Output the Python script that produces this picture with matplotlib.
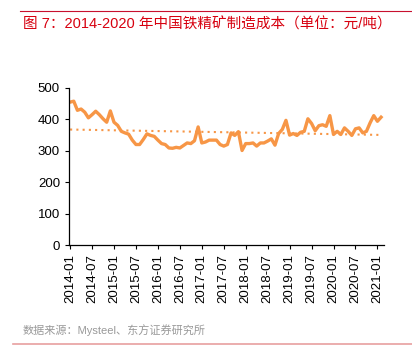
import matplotlib.pyplot as plt
import numpy as np
import pandas as pd

plt.rcParams['font.family'] = ['Liberation Sans', 'Noto Sans CJK SC', 'DejaVu Sans']

# 月度数据 2014-01 ~ 2021-02
months = pd.date_range('2014-01-01', periods=86, freq='MS')
cost = [455, 458, 429, 433, 423, 405, 415, 426, 415, 402,
        391, 427, 391, 381, 362, 357, 353, 334, 320, 320,
        336, 354, 349, 346, 334, 323, 320, 309, 308, 311,
        309, 317, 325, 323, 332, 376, 325, 328, 334, 334,
        334, 320, 315, 320, 357, 349, 361, 301, 323, 323,
        325, 315, 325, 325, 331, 338, 318, 355, 368, 397,
        350, 355, 349, 359, 362, 402, 387, 364, 380, 383,
        378, 412, 352, 362, 352, 373, 362, 349, 370, 373,
        357, 362, 389, 412, 394, 407]
tick_labels = ['2014-01', '2014-07', '2015-01', '2015-07', '2016-01', '2016-07',
               '2017-01', '2017-07', '2018-01', '2018-07', '2019-01', '2019-07',
               '2020-01', '2020-07', '2021-01']

title = '图 7：2014-2020 年中国铁精矿制造成本（单位：元/吨）'
source = '数据来源：Mysteel、东方证券研究所'

x = np.arange(len(cost))
cost = np.array(cost)
k, b = np.polyfit(x, cost, 1)  # 线性趋势线

fig = plt.figure(figsize=(4.12, 3.59), dpi=100)
ax = fig.add_axes([69/412, 1 - 245/359, (384-69)/412, (245-88)/359])

ax.plot(x, cost, color='#f79646', lw=2.4, solid_joinstyle='round')
ax.plot(x, k*x + b, color='#f79646', lw=1.5, ls=(0, (1, 2)))

ax.set_ylim(0, 500)
ax.set_yticks(range(0, 501, 100))
ax.set_xlim(-0.3, 85.8)
ticks = [i*6 for i in range(len(tick_labels))]
ax.set_xticks(ticks)
ax.set_xticklabels(tick_labels, rotation=90)
ax.tick_params(labelsize=9.5, length=3, width=0.8, colors='black')
for s in ['top', 'right']:
    ax.spines[s].set_visible(False)
for s in ['left', 'bottom']:
    ax.spines[s].set_linewidth(0.9)

# 标题与装饰线
fig.add_artist(plt.Line2D([20/412, 1], [1 - 11/359]*2, color='#c8102e', lw=0.8))
fig.text(23/412, 1 - 24/359, title, color='#d7000f', fontsize=10.5,
         fontweight='medium', va='center', ha='left')
fig.text(23/412, 1 - 330/359, source, color='#999999', fontsize=8,
         va='center', ha='left')
fig.add_artist(plt.Line2D([13/412, 1], [1 - 344/359]*2, color='#e8a0a0', lw=1.2))

fig.savefig('out.png', dpi=100)
